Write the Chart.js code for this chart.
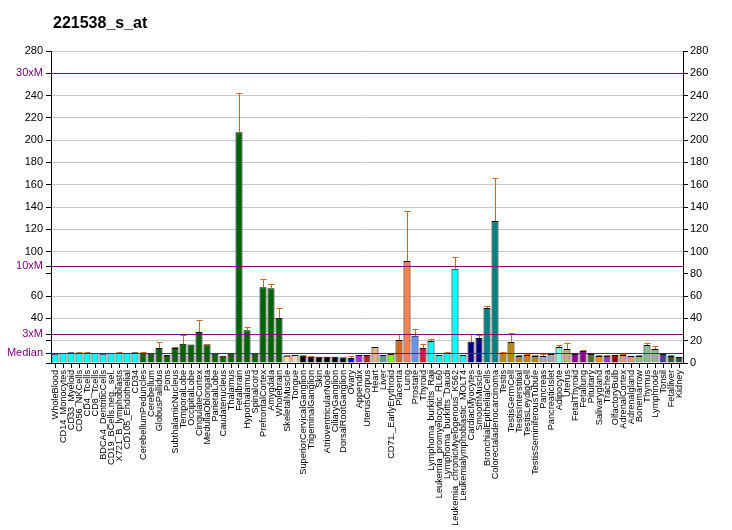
<!DOCTYPE html>
<html>
<head>
<meta charset="utf-8">
<script src="https://cdn.jsdelivr.net/npm/chart.js@4.4.0/dist/chart.umd.min.js"></script>
<style>
  html, body { margin: 0; padding: 0; background: #fff; }
</style>
</head>
<body>
<canvas id="chart" width="732" height="530"></canvas>
<script>
// données
const categories = ['WholeBlood','CD14_Monocytes','CD33_Myeloid','CD56_NKCells','CD4_Tcells','CD8_Tcells',
  'BDCA4_DentriticCells','CD19_BCells.neg._sel.','X721_B_lymphoblasts','CD105_Endothelial','CD34',
  'CerebellumPeduncles','Cerebellum','GlobusPallidus','Pons','SubthalamicNucleus','TemporalLobe',
  'OccipitalLobe','CingulateCortex','MedullaOblongata','ParietalLobe','Caudatenucleus','Thalamus',
  'Fetalbrain','Hypothalamus','Spinalcord','PrefrontalCortex','Amygdala','Wholebrain','SkeletalMuscle',
  'Tongue','SuperiorCervicalGanglion','TrigeminalGanglion','Skin','AtrioventricularNode','CiliaryGanglion',
  'DorsalRootGanglion','Ovary','Appendix','UterusCorpus','Heart','Liver','CD71._EarlyErythroid','Placenta',
  'Lung','Prostate','Thyroid','Lymphoma_burkitts_Raji','Leukemia_promyelocytic_HL60','Lymphoma_burkitts_Daudi',
  'Leukemia_chronicMyelogenous_K562','Leukemialymphoblastic_MOLT4','CardiacMyocytes','SmoothMuscle',
  'BronchialEpithelialCells','Colorectaladenocarcinoma','Testis','TestisGermCell','TestisInterstitial',
  'TestisLeydigCell','TestisSeminiferousTubule','Pancreas','PancreaticIslet','Adipocyte','Uterus',
  'FetalThyroid','Fetallung','Pituitary','Salivarygland','Trachea','OlfactoryBulb','AdrenalCortex',
  'Adrenalgland','Bonemarrow','Thymus','Lymphnode','Tonsil','Fetalliver','Kidney'];

const values = [8.4, 9.0, 9.6, 9.0, 9.0, 9.0, 8.4, 9.0, 9.0, 9.0, 9.6,
  9.0, 8.4, 13.5, 7.2, 13.5, 17.3, 16.5, 27.8, 16.5, 8.4, 6.6, 8.4,
  207, 29.5, 8.4, 68, 67, 40.4, 6.6, 7.2, 6.6, 5.7, 5.7, 5.7, 5.7,
  4.8, 4.5, 7.2, 7.2, 14.4, 7.2, 8.1, 20.6, 91.5, 24.5, 13.5, 19.7, 7.2, 9.0,
  84.5, 7.2, 19.1, 22.4, 49.4, 127.5, 9.0, 18.8, 6.3,
  7.2, 6.3, 6.3, 8.1, 14.4, 12.6, 8.1, 10.8, 8.1, 6.3, 6.3, 7.2, 7.2,
  6.3, 6.3, 16.2, 12.6, 8.1, 6.3, 5.4];

// haut des barres d'erreur (null = pas de barre)
const errTop = [null, null, null, 9.9, 9.9, null, null, null, 9.9, null, null,
  9.9, null, 18.8, null, 14.4, 25.4, null, 38.6, 17.3, null, null, null,
  242, 32.3, null, 75.7, 70.6, 49.2, 7.2, null, 7.2, 6.3, null, null, null,
  5.4, 6.0, null, null, null, null, null, 26.0, 136, 30.5, 17.3, 21.5, null, 9.9,
  95, null, 26, 25.1, 51.2, 166, 9.9, 26.9, 7.2,
  8.1, 7.2, 8.1, null, 16.2, 17.9, null, 11.7, null, 7.2, 7.2, null, 8.1,
  null, 7.2, 17.9, 15.3, null, 7.2, null];

const barColors = [
  '#00ffff','#00ffff','#00ffff','#00ffff','#00ffff','#00ffff','#00ffff','#00ffff','#00ffff','#00ffff','#00ffff',
  '#006400','#006400','#006400','#006400','#006400','#006400','#006400','#006400','#006400','#006400','#006400',
  '#006400','#006400','#006400','#006400','#006400','#006400','#006400',
  '#ffdab9','#ffdab9','#000000','#000000','#000000','#000000','#000000','#000000',
  '#0000ff','#9b30ff','#b22222','#deb887','#5f9ea0','#7cfc00','#d2691e','#ff7f50','#6495ed','#dc143c',
  '#00ffff','#00ffff','#00ffff','#00ffff','#00ffff',
  '#000080','#000080','#008080','#008080',
  '#b8860b','#b8860b','#b8860b','#b8860b','#b8860b',
  '#a9a9a9','#a9a9a9','#7fffd4','#bdb76b','#8b008b','#8b008b','#556b2f','#ff8c00','#9932cc','#8b0000',
  '#e9967a','#e9967a','#8fbc8f','#8fbc8f','#8fbc8f','#483d8b','#2f4f4f','#2f4f4f'];

const medianValue = 8.67;
const markers = [
  { mult: 1, label: 'Median' },
  { mult: 3, label: '3xM' },
  { mult: 10, label: '10xM' },
  { mult: 30, label: '30xM' }
];
const axisTicks = [0, 20, 40, 60, 80, 100, 120, 140, 160, 180, 200, 220, 240, 260, 280];
const hiddenLeftLabels = [0, 20, 80];
const noGridAt = [0, 80];

const FONT = "'Liberation Sans', Arial, sans-serif";
const PURPLE = '#800080';
const ERR_COLOR = '#d0691e';

function markerAt(v) {
  return markers.find(m => Math.abs(m.mult * medianValue - v) < 0.01);
}

// lignes Median / 3xM / 10xM / 30xM
const markerLines = {
  id: 'markerLines',
  afterDatasetsDraw(chart) {
    const ctx = chart.ctx, area = chart.chartArea, y = chart.scales.y;
    ctx.save();
    ctx.strokeStyle = PURPLE;
    ctx.lineWidth = 1;
    markers.forEach(m => {
      const py = Math.round(y.getPixelForValue(m.mult * medianValue)) + 0.5;
      ctx.beginPath();
      ctx.moveTo(area.left, py);
      ctx.lineTo(area.right, py);
      ctx.stroke();
    });
    ctx.restore();
  }
};

// barres d'erreur (seulement vers le haut)
const errorBars = {
  id: 'errorBars',
  afterDatasetsDraw(chart) {
    const ctx = chart.ctx, y = chart.scales.y;
    const meta = chart.getDatasetMeta(0);
    ctx.save();
    ctx.strokeStyle = ERR_COLOR;
    ctx.lineWidth = 1;
    meta.data.forEach((bar, i) => {
      if (errTop[i] == null) return;
      const x = Math.round(bar.x) + 0.5;
      const y0 = Math.round(bar.y);
      const y1 = Math.round(y.getPixelForValue(errTop[i])) + 0.5;
      ctx.beginPath();
      ctx.moveTo(x, y0);
      ctx.lineTo(x, y1);
      ctx.moveTo(x - 3, y1);
      ctx.lineTo(x + 3, y1);
      ctx.stroke();
    });
    ctx.restore();
  }
};

const titleText = {
  id: 'titleText',
  afterDraw(chart) {
    const ctx = chart.ctx;
    ctx.save();
    ctx.fillStyle = '#000';
    ctx.font = 'bold 16px ' + FONT;
    ctx.textBaseline = 'alphabetic';
    ctx.fillText('221538_s_at', 53, 28);
    ctx.restore();
  }
};

const chart = new Chart(document.getElementById('chart').getContext('2d'), {
  type: 'bar',
  data: {
    labels: categories,
    datasets: [{
      data: values,
      backgroundColor: barColors,
      borderColor: '#000000',
      borderWidth: 1,
      barPercentage: 0.88,
      categoryPercentage: 1.0
    }]
  },
  options: {
    responsive: false,
    animation: false,
    layout: { padding: { top: 51, left: 0, right: 0, bottom: 0 } },
    plugins: {
      legend: { display: false },
      tooltip: { enabled: false },
      title: { display: false }
    },
    scales: {
      x: {
        offset: true,
        grid: { display: true, offset: false, drawOnChartArea: false, drawTicks: true, tickLength: 5, tickColor: '#000' },
        border: { display: true, color: '#000', width: 1 },
        ticks: {
          autoSkip: false,
          minRotation: 90,
          maxRotation: 90,
          padding: 2,
          color: '#000',
          font: { family: FONT, size: 9.2 }
        },
        afterFit(scale) { scale.height = 167; }
      },
      y: {
        position: 'left',
        min: 0,
        max: 280,
        afterBuildTicks(scale) {
          // les repères remplacent les graduations trop proches (260 -> 30xM)
          const markVals = markers.map(m => m.mult * medianValue);
          const vals = axisTicks
            .filter(v => !markVals.some(mv => Math.abs(mv - v) < 1))
            .concat(markVals)
            .sort((a, b) => a - b);
          scale.ticks = vals.map(v => ({ value: v }));
        },
        grid: {
          color: ctx => {
            const v = ctx.tick ? ctx.tick.value : 0;
            if (markerAt(v) || noGridAt.includes(v)) return 'rgba(0,0,0,0)';
            return '#c8c8c8';
          },
          tickColor: '#000',
          tickLength: 5,
          lineWidth: 1
        },
        border: { display: true, color: '#000', width: 1 },
        ticks: {
          padding: 3,
          font: { family: FONT, size: 11 },
          color: ctx => (ctx.tick && markerAt(ctx.tick.value)) ? PURPLE : '#000',
          callback: function(value) {
            const m = markerAt(value);
            if (m) return m.label;
            if (hiddenLeftLabels.includes(value)) return '';
            return String(value);
          }
        },
        afterFit(scale) { scale.width = 51; }
      },
      yRight: {
        position: 'right',
        min: 0,
        max: 280,
        afterBuildTicks(scale) {
          scale.ticks = axisTicks.map(v => ({ value: v }));
        },
        grid: { drawOnChartArea: false, tickColor: '#000', tickLength: 5 },
        border: { display: true, color: '#000', width: 1 },
        ticks: {
          padding: 2,
          color: '#000',
          font: { family: FONT, size: 11 }
        },
        afterFit(scale) { scale.width = 49; }
      }
    }
  },
  plugins: [errorBars, markerLines, titleText]
});
</script>
</body>
</html>
